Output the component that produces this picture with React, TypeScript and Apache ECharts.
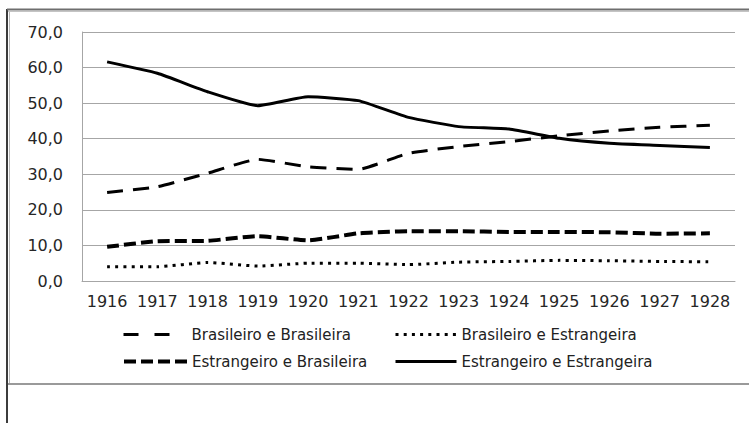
import React, { useEffect, useRef } from "react";
import * as echarts from "echarts";

const categories = ["1916", "1917", "1918", "1919", "1920", "1921", "1922", "1923", "1924", "1925", "1926", "1927", "1928"];
const brasileiroBrasileira = [24.9, 26.5, 30.3, 34.2, 32.1, 31.4, 35.9, 37.8, 39.2, 40.8, 42.2, 43.2, 43.8];
const brasileiroEstrangeira = [4.0, 4.0, 5.2, 4.2, 5.0, 5.0, 4.6, 5.3, 5.5, 5.8, 5.7, 5.5, 5.4];
const estrangeiroBrasileira = [9.6, 11.2, 11.3, 12.6, 11.4, 13.4, 14.0, 14.0, 13.8, 13.8, 13.7, 13.3, 13.4];
const estrangeiroEstrangeira = [61.6, 58.4, 53.2, 49.3, 51.8, 50.7, 46.0, 43.4, 42.7, 40.1, 38.7, 38.1, 37.5];
const seriesNames = [
  "Brasileiro e Brasileira",
  "Brasileiro e Estrangeira",
  "Estrangeiro e Brasileira",
  "Estrangeiro e Estrangeira",
];

const FONT = "DejaVu Sans";

export default function App() {
  const ref = useRef<HTMLDivElement>(null);
  useEffect(() => {
    if (!ref.current) return;
    const chart = echarts.init(ref.current, null, { renderer: "svg" });
    const legendText = { fontFamily: FONT, fontSize: 15, color: "#222" };
    const mkLegend = (name: string, left: number, top: number, w: number, ls: any) => ({
      show: true,
      left,
      top,
      padding: 0,
      itemWidth: w,
      itemHeight: 18,
      selectedMode: false,
      data: [{ name }],
      textStyle: legendText,
      lineStyle: ls,
      itemStyle: { color: "transparent", borderWidth: 0, opacity: 0 },
    });
    const smooth = 0.15;
    chart.setOption({
      animation: false,
      backgroundColor: "#ffffff",
      grid: { left: 82, right: 14, top: 32, bottom: 142, containLabel: false },
      xAxis: {
        type: "category",
        data: categories,
        boundaryGap: true,
        axisLine: { show: true, lineStyle: { color: "#a6a6a6", width: 1 } },
        axisTick: { show: false },
        axisLabel: { fontFamily: FONT, fontSize: 16, color: "#262626", margin: 12, interval: 0 },
      },
      yAxis: {
        type: "value",
        min: 0,
        max: 70,
        interval: 10,
        axisLine: { show: true, lineStyle: { color: "#a6a6a6", width: 1 } },
        axisTick: { show: false },
        splitLine: { show: true, lineStyle: { color: "#a6a6a6", width: 1 } },
        axisLabel: {
          fontFamily: FONT,
          fontSize: 16,
          color: "#262626",
          margin: 19,
          formatter: (v: number) => v.toFixed(1).replace(".", ","),
        },
      },
      legend: [
        mkLegend(seriesNames[0], 122, 327, 63, { width: 3, type: [15, 16, 15, 20], color: "#000" }),
        mkLegend(seriesNames[1], 394, 327, 61, { width: 3, type: [3, 5.2], color: "#000" }),
        mkLegend(seriesNames[2], 122, 354, 63, { width: 4, type: [12, 5], color: "#000" }),
        mkLegend(seriesNames[3], 394, 354, 61, { width: 3, type: "solid", color: "#000" }),
      ],
      graphic: [
        { type: "line", shape: { x1: 7, y1: 9, x2: 7, y2: 423 }, style: { stroke: "#3c3c3c", lineWidth: 2 } },
        { type: "line", shape: { x1: 9.5, y1: 11, x2: 9.5, y2: 384 }, style: { stroke: "#b8b8b8", lineWidth: 1 } },
        { type: "line", shape: { x1: 7, y1: 9.5, x2: 749, y2: 9.5 }, style: { stroke: "#6e6e6e", lineWidth: 2 } },
        { type: "line", shape: { x1: 8, y1: 11.5, x2: 749, y2: 11.5 }, style: { stroke: "#c4c4c4", lineWidth: 1 } },
        { type: "line", shape: { x1: 8, y1: 384, x2: 749, y2: 384 }, style: { stroke: "#9a9a9a", lineWidth: 2 } },
      ],
      series: [
        {
          name: seriesNames[0],
          type: "line",
          data: brasileiroBrasileira,
          symbol: "none",
          smooth,
          itemStyle: { color: "#000" },
          lineStyle: { color: "#000", width: 3, type: [16, 10] },
        },
        {
          name: seriesNames[1],
          type: "line",
          data: brasileiroEstrangeira,
          symbol: "none",
          smooth,
          itemStyle: { color: "#000" },
          lineStyle: { color: "#000", width: 3, type: [3, 5.2] },
        },
        {
          name: seriesNames[2],
          type: "line",
          data: estrangeiroBrasileira,
          symbol: "none",
          smooth,
          itemStyle: { color: "#000" },
          lineStyle: { color: "#000", width: 4, type: [12, 5] },
        },
        {
          name: seriesNames[3],
          type: "line",
          data: estrangeiroEstrangeira,
          symbol: "none",
          smooth,
          itemStyle: { color: "#000" },
          lineStyle: { color: "#000", width: 3, type: "solid" },
        },
      ],
    });
    return () => chart.dispose();
  }, []);
  return (
    <div
      ref={ref}
      style={{ position: "absolute", left: 0, top: 0, width: 749, height: 423, background: "#fff" }}
    />
  );
}
